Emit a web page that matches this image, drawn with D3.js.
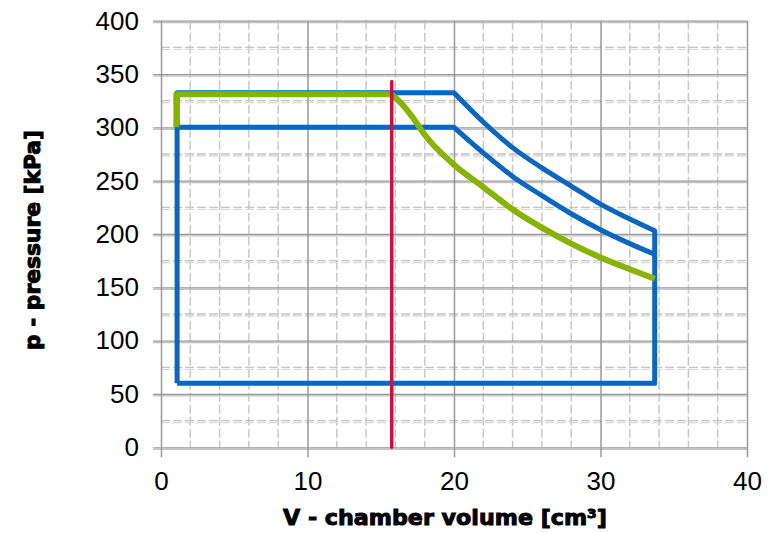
<!DOCTYPE html>
<html>
<head>
<meta charset="utf-8">
<script src="https://cdn.jsdelivr.net/npm/d3@7"></script>
<style>
	body { margin: 0; background: #fff; }
	.tick text { font-family: "Liberation Sans", Arial, sans-serif; font-size: 26px; fill: #000; }
	.title { font-family: "DejaVu Sans", sans-serif; font-weight: bold; font-size: 22px; fill: #000; stroke: #000; stroke-width: 1px; }
</style>
</head>
<body>
<div id="chart-area"></div>
<script>
// SVG Size
let width = 775,
	height = 533;

// tick labels
let xTicks = [0, 10, 20, 30, 40];
let yTicks = [0, 50, 100, 150, 200, 250, 300, 350, 400];
let xMinor = [2, 4, 6, 8, 12, 14, 16, 18, 22, 24, 26, 28, 32, 34, 36, 38];
let yMinor = [25, 75, 125, 175, 225, 275, 325, 375];

// outer blue cycle (V in cm3, p in kPa): straight part, then expansion curve, then closing
let outerV = [1.1, 1.1, 20];
let outerP = [60, 332.5, 332.5];
let outerCurveV = [20, 22, 24, 26, 28, 30, 32, 33.7];
let outerCurveP = [332.5, 305, 281, 262, 245, 228, 214, 203];
let outerCloseV = [33.7, 33.7, 1.1];
let outerCloseP = [203, 60, 60];

// inner blue line
let innerV = [1.1, 20];
let innerP = [300, 300];
let innerCurveV = [20, 22, 24, 26, 28, 30, 32, 33.7];
let innerCurveP = [300, 276, 254, 236, 219, 204, 191, 181];

// green line
let greenV = [1.05, 1.05, 15.75];
let greenP = [300, 331, 331];
let greenCurveV = [15.75, 16.5, 17.2, 18, 20, 22, 24, 26, 28, 30, 32, 33.7];
let greenCurveP = [331, 321, 309, 293, 265, 244, 223, 206, 191, 178, 167, 158];

// red marker line
let redV = [15.75, 15.75];
let redP = [0, 343];

let xScale = d3.scaleLinear()
			.domain([0, 40])
			.range([161, 747]);

let yScale = d3.scaleLinear()
			.domain([0, 400])
			.range([447.3, 20.7]);

let svg = d3.select("#chart-area")
			.append('svg')
			.attr('width', width)
			.attr('height', height);

svg.append('rect')
	.attr('width', width)
	.attr('height', height)
	.attr('fill', '#fff');

// minor grid (dashed)
svg.selectAll('.vminor')
	.data(xMinor)
	.enter()
	.append('line')
	.attr('x1', d => xScale(d))
	.attr('x2', d => xScale(d))
	.attr('y1', yScale(400))
	.attr('y2', yScale(0))
	.attr('stroke', '#c8c8c8')
	.attr('stroke-width', 1.5)
	.attr('stroke-dasharray', '9,3');

[0, 2].forEach((off, i) => {
	svg.selectAll('.hminor' + i)
		.data(yMinor)
		.enter()
		.append('line')
		.attr('x1', xScale(0))
		.attr('x2', xScale(40))
		.attr('y1', d => yScale(d) + off)
		.attr('y2', d => yScale(d) + off)
		.attr('stroke', i == 0 ? '#c4c4c4' : '#dadada')
		.attr('stroke-width', 1.3)
		.attr('stroke-dasharray', '9,3');
});

// major grid: second lighter line below each major
svg.selectAll('.hmajor2')
	.data(yTicks)
	.enter()
	.append('line')
	.attr('x1', xScale(0) - 8)
	.attr('x2', xScale(40))
	.attr('y1', d => yScale(d) + 2)
	.attr('y2', d => yScale(d) + 2)
	.attr('stroke', '#c4c4c4')
	.attr('stroke-width', 1.2);

let yAxis = d3.axisLeft()
			.scale(yScale)
			.tickValues(yTicks)
			.tickSize(-(xScale(40) - xScale(0)) - 8)
			.tickPadding(14);

let y = svg.append('g')
			.attr('class', 'axis y-axis')
			.attr('transform', 'translate(' + (xScale(0) - 8) + ', 0)')
			.call(yAxis);
y.select('.domain').remove();
y.selectAll('line').attr('stroke', '#999').attr('stroke-width', 1.3);

let xAxis = d3.axisBottom()
			.scale(xScale)
			.tickValues(xTicks)
			.tickSize(yScale(0) - yScale(400) + 10)
			.tickPadding(14);

let x = svg.append('g')
			.attr('class', 'axis x-axis')
			.attr('transform', 'translate(0,' + yScale(400) + ")")
			.call(xAxis);
x.select('.domain').remove();
x.selectAll('line').attr('stroke', '#999').attr('stroke-width', 1.5);

// data lines
let line = d3.line()
			.x(d => xScale(d[0]))
			.y(d => yScale(d[1]));

let smooth = d3.line()
			.x(d => xScale(d[0]))
			.y(d => yScale(d[1]))
			.curve(d3.curveMonotoneX);

let zip = (a, b) => a.map((v, i) => [v, b[i]]);

// join path strings into one path (next piece continues with L instead of M)
let joined = (...parts) => parts.map((p, i) => i == 0 ? p : p.replace(/^M/, 'L')).join('');

svg.append('path')
	.attr('d', joined(line(zip(outerV, outerP)), smooth(zip(outerCurveV, outerCurveP)), line(zip(outerCloseV, outerCloseP))))
	.attr('fill', 'none')
	.attr('stroke', '#0a66be')
	.attr('stroke-width', 5)
	.attr('stroke-linejoin', 'round');

svg.append('path')
	.attr('d', joined(line(zip(innerV, innerP)), smooth(zip(innerCurveV, innerCurveP))))
	.attr('fill', 'none')
	.attr('stroke', '#0a66be')
	.attr('stroke-width', 5)
	.attr('stroke-linejoin', 'round');

svg.append('path')
	.attr('d', joined(line(zip(greenV, greenP)), smooth(zip(greenCurveV, greenCurveP))))
	.attr('fill', 'none')
	.attr('stroke', '#88b300')
	.attr('stroke-width', 6)
	.attr('stroke-linejoin', 'round');

svg.append('path')
	.datum(zip(redV, redP))
	.attr('d', line)
	.attr('fill', 'none')
	.attr('stroke', '#cc1040')
	.attr('stroke-width', 3.5)
	.attr('stroke-linecap', 'round');

// axis titles
svg.append('text')
	.attr('class', 'title')
	.attr('x', 445)
	.attr('y', 525)
	.attr('text-anchor', 'middle')
	.attr('textLength', 324)
	.attr('lengthAdjust', 'spacingAndGlyphs')
	.text('V - chamber volume [cm³]');

svg.append('text')
	.attr('class', 'title')
	.attr('transform', 'translate(40,240) rotate(-90)')
	.attr('text-anchor', 'middle')
	.attr('textLength', 220)
	.attr('lengthAdjust', 'spacingAndGlyphs')
	.text('p - pressure [kPa]');
</script>
</body>
</html>
